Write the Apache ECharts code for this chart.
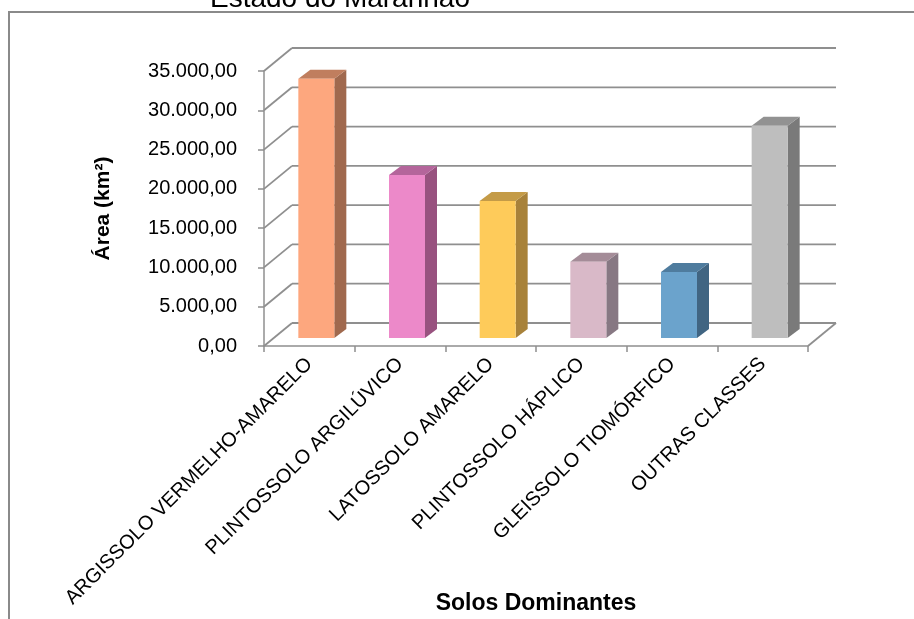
<!DOCTYPE html>
<html><head><meta charset="utf-8">
<script src="https://cdn.jsdelivr.net/npm/echarts@6/dist/echarts.min.js"></script>
<style>html,body{margin:0;padding:0;background:#fff}#c{width:914px;height:619px}</style>
</head><body><div id="c"></div>
<script>
const categories = ['ARGISSOLO VERMELHO-AMARELO','PLINTOSSOLO ARGILÚVICO','LATOSSOLO AMARELO','PLINTOSSOLO HÁPLICO','GLEISSOLO TIOMÓRFICO','OUTRAS CLASSES'];
const areas = [33000, 20750, 17450, 9700, 8400, 27000];
const yTicks = [0, 5000, 10000, 15000, 20000, 25000, 30000, 35000];
const titleText = 'Estado do Maranhão';
const yName = 'Área (km²)';
const xName = 'Solos Dominantes';

const frontColors = ['#FDA77E','#EC89C9','#FECB5A','#D9B9C8','#6BA3CC','#BEBEBE'];
const sideColors  = ['#A0694E','#98527F','#A8823A','#877883','#416582','#7A7A7A'];
const topColors   = ['#C07E5E','#B4659B','#C49B47','#A48C98','#4F7C9E','#929292'];

const DX = 28, DY = -23;          // wall depth
const BOX = 7, BOY = -8;          // bar front offset
const BDX = 12, BDY = -9;         // bar depth
const GRID = '#8f8f8f';

function fmt(v){
  const s = Math.round(v).toString().replace(/\B(?=(\d{3})+(?!\d))/g, '.');
  return s + ',00';
}

const chart = echarts.init(document.getElementById('c'), null, {renderer:'canvas'});
chart.setOption({
  animation:false,
  backgroundColor:'#fff',
  title:{text:titleText,left:205,top:-20,textStyle:{fontFamily:'Liberation Sans, Arial',fontSize:28,fontWeight:'normal',color:'#000'}},
  graphic:[{type:'rect',shape:{x:9,y:12,width:1000,height:700},style:{fill:'none',stroke:'#8a8a8a',lineWidth:2},z:-10}],
  grid:{left:264,top:71,width:544,height:275,containLabel:false,outerBoundsMode:'none'},
  xAxis:{type:'category',data:categories,
    axisLine:{show:true,lineStyle:{color:GRID,width:1.5}},
    axisTick:{show:true,alignWithLabel:false,length:6,lineStyle:{color:GRID,width:1.5}},
    axisLabel:{interval:0,rotate:45,margin:15,fontFamily:'Liberation Sans, Arial',fontSize:20,color:'#000'},
    name:xName,nameLocation:'middle',nameGap:246,nameMoveOverlap:false,
    nameTextStyle:{fontFamily:'Liberation Sans, Arial',fontWeight:'bold',fontSize:23,color:'#000'}},
  yAxis:{type:'value',min:0,max:35000,interval:5000,
    axisLine:{show:true,lineStyle:{color:GRID,width:1.5}},
    axisTick:{show:true,length:6,lineStyle:{color:GRID,width:1.5}},
    splitLine:{show:false},
    axisLabel:{margin:27,formatter:fmt,fontFamily:'Liberation Sans, Arial',fontSize:20,color:'#000'},
    name:yName,nameLocation:'middle',nameGap:150,nameRotate:90,nameMoveOverlap:false,
    nameTextStyle:{fontFamily:'Liberation Sans, Arial',fontWeight:'bold',fontSize:21,color:'#000'}},
  series:[
    {type:'custom',z:1,silent:true,
     data:yTicks.map(v=>[0,v]),
     renderItem:function(params,api){
       const cs = params.coordSys;
       const y = api.coord([0,api.value(1)])[1];
       const x0 = cs.x, x1 = cs.x + cs.width;
       const st = {stroke:GRID,lineWidth:1.8,fill:null};
       const ch = [
         {type:'line',shape:{x1:x0,y1:y,x2:x0+DX,y2:y+DY},style:st},
         {type:'line',shape:{x1:x0+DX,y1:y+DY,x2:x1+DX,y2:y+DY},style:st}
       ];
       if(api.value(1)===0){
         ch.push({type:'line',shape:{x1:x1,y1:y,x2:x1+DX,y2:y+DY},style:st});
       }
       return {type:'group',children:ch};
     }},
    {type:'custom',z:5,
     data:areas.map((v,i)=>[i,v]),
     renderItem:function(params,api){
       const i = api.value(0), v = api.value(1);
       const p = api.coord([i,v]), p0 = api.coord([i,0]);
       const w = api.size([1,0])[0]*0.397;
       const x = p[0]-w/2+BOX, top = p[1]+BOY, bot = p0[1]+BOY;
       return {type:'group',children:[
         {type:'polygon',shape:{points:[[x+w,top],[x+w+BDX,top+BDY],[x+w+BDX,bot+BDY],[x+w,bot]]},style:{fill:sideColors[i]}},
         {type:'polygon',shape:{points:[[x,top],[x+BDX,top+BDY],[x+w+BDX,top+BDY],[x+w,top]]},style:{fill:topColors[i]}},
         {type:'rect',shape:{x:x,y:top,width:w,height:bot-top},style:{fill:frontColors[i]}}
       ]};
     }}
  ]
});
</script></body></html>
